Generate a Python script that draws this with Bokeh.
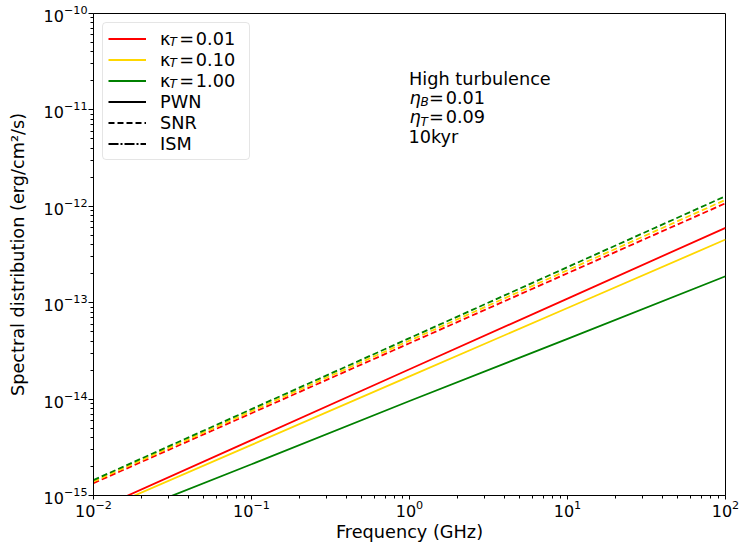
from bokeh.plotting import figure
from bokeh.models import Legend, LegendItem, Label, FixedTicker, LogTickFormatter
from bokeh.embed import file_html
from bokeh.resources import INLINE

# ---------------- data ----------------
freq_ghz = [0.01, 0.1, 1.0, 10.0, 100.0]

kappa_values = ["0.01", "0.10", "1.00"]
kappa_colors = ["#ff0000", "#ffd700", "#008000"]

# PWN (solid)
pwn_k001 = [6.92e-16, 3.75e-15, 2.04e-14, 1.104e-13, 5.98e-13]
pwn_k010 = [6.53e-16, 3.35e-15, 1.72e-14, 8.81e-14, 4.52e-13]
pwn_k100 = [4.73e-16, 2.11e-15, 9.55e-15, 4.22e-14, 1.88e-13]

# SNR (dashed)
snr_k001 = [1.343e-15, 7.14e-15, 3.80e-14, 2.02e-13, 1.076e-12]
snr_k010 = [1.396e-15, 7.50e-15, 4.04e-14, 2.17e-13, 1.167e-12]
snr_k100 = [1.445e-15, 7.87e-15, 4.29e-14, 2.34e-13, 1.274e-12]

pwn_series = [pwn_k001, pwn_k010, pwn_k100]
snr_series = [snr_k001, snr_k010, snr_k100]

# legend-only keys (no visible data, like matplotlib proxy artists)
key_x = [float("nan")]
key_y = [float("nan")]

x_major = [1e-2, 1e-1, 1e0, 1e1, 1e2]
y_major = [1e-15, 1e-14, 1e-13, 1e-12, 1e-11, 1e-10]

annotation_title = "High turbulence"
eta_b = "0.01"
eta_t = "0.09"
age_text = "10kyr"

FONT = "DejaVu Sans"
FS_PX = 17.7
FS = "17.7px"
SUB_PX = 12.0
LW = 1.8
DASH = "6 3"
DASHDOT = "10 2 2 2"

# ---------------- figure ----------------
p = figure(x_axis_type="log", y_axis_type="log",
           x_range=(1e-2, 1e2), y_range=(1e-15, 1e-10),
           frame_width=632, frame_height=482,
           min_border_left=93, min_border_right=15,
           min_border_top=13, min_border_bottom=49,
           output_backend="svg", toolbar_location=None,
           background_fill_color="white", border_fill_color="white")

p.grid.visible = False
p.outline_line_color = "black"
p.outline_line_width = 1
p.outline_line_alpha = 1.0

x_minor = [m * 10.0 ** e for e in range(-2, 2) for m in range(2, 10)]
y_minor = [m * 10.0 ** e for e in range(-15, -10) for m in range(2, 10)]
p.xaxis.ticker = FixedTicker(ticks=x_major, minor_ticks=x_minor)
p.yaxis.ticker = FixedTicker(ticks=y_major, minor_ticks=y_minor)
p.xaxis.formatter = LogTickFormatter()
p.yaxis.formatter = LogTickFormatter()

for ax in (p.xaxis, p.yaxis):
    ax.axis_line_color = "black"
    ax.major_tick_line_color = "black"
    ax.minor_tick_line_color = "black"
    ax.major_tick_in = 0
    ax.minor_tick_out = 3
    ax.minor_tick_in = 0
    ax.major_label_text_font = FONT
    ax.major_label_text_font_size = "16px"
    ax.major_label_text_color = "black"
    ax.axis_label_text_font = FONT
    ax.axis_label_text_font_size = FS
    ax.axis_label_text_font_style = "normal"
    ax.axis_label_text_color = "black"

p.xaxis.major_tick_out = 4
p.yaxis.major_tick_out = 5
p.xaxis.axis_label = "Frequency (GHz)"
p.yaxis.axis_label = "Spectral distribution (erg/cm²/s)"
p.xaxis.major_label_standoff = 0
p.yaxis.major_label_standoff = 1
p.xaxis.axis_label_standoff = 2
p.yaxis.axis_label_standoff = 13

# ---------------- lines ----------------
items = []
for k, col, pw, sn in zip(kappa_values, kappa_colors, pwn_series, snr_series):
    r_pwn = p.line(freq_ghz, pw, line_color=col, line_width=LW)
    p.line(freq_ghz, sn, line_color=col, line_width=LW, line_dash=DASH)
    items.append(LegendItem(label="κ\u2002=\u200a" + k + "\u2002", renderers=[r_pwn]))

r_pwn_key = p.line(key_x, key_y, line_color="black", line_width=LW)
r_snr_key = p.line(key_x, key_y, line_color="black", line_width=LW, line_dash=DASH)
r_ism_key = p.line(key_x, key_y, line_color="black", line_width=LW, line_dash=DASHDOT)
items.append(LegendItem(label="PWN", renderers=[r_pwn_key]))
items.append(LegendItem(label="SNR", renderers=[r_snr_key]))
items.append(LegendItem(label="ISM", renderers=[r_ism_key]))

legend = Legend(items=items, location="top_left", padding=5, spacing=0, margin=9,
                glyph_width=38, glyph_height=21, label_height=21, label_standoff=14,
                label_text_font=FONT, label_text_font_size=FS, label_text_color="black",
                border_line_color="#cccccc", border_line_width=1,
                background_fill_color="white", background_fill_alpha=0.0,
                border_radius=4)
p.add_layout(legend)

FRAME_LEFT = 93
FRAME_BOTTOM = 495


def add_text(img_x, img_base, txt, size_px=FS_PX, style="normal", level="annotation"):
    # empirical correction: the rendered baseline sits ~0.395 em below the requested one
    shift = 0.395 * size_px
    p.add_layout(Label(x=img_x - FRAME_LEFT, y=FRAME_BOTTOM - img_base + shift,
                       x_units="screen", y_units="screen", text=txt,
                       text_font=FONT, text_font_size="%gpx" % size_px,
                       text_font_style=style,
                       text_baseline="alphabetic", text_align="left", text_color="black",
                       level=level))


# subscript T in the legend rows
for row_base in (46.6, 67.6, 88.6):
    add_text(169.0, row_base, "T", size_px=SUB_PX, style="italic", level="overlay")

# ---------------- annotation ----------------
add_text(408.5, 85.0, annotation_title)
add_text(409.0, 104.4, "η", style="italic")
add_text(420.0, 106.4, "B", size_px=SUB_PX, style="italic")
add_text(428.6, 104.4, "=\u200a" + eta_b)
add_text(409.0, 123.8, "η", style="italic")
add_text(420.0, 125.8, "T", size_px=SUB_PX, style="italic")
add_text(428.6, 123.8, "=\u200a" + eta_t)
add_text(408.0, 143.2, age_text)

open("out.html", "w").write(file_html(p, INLINE))
